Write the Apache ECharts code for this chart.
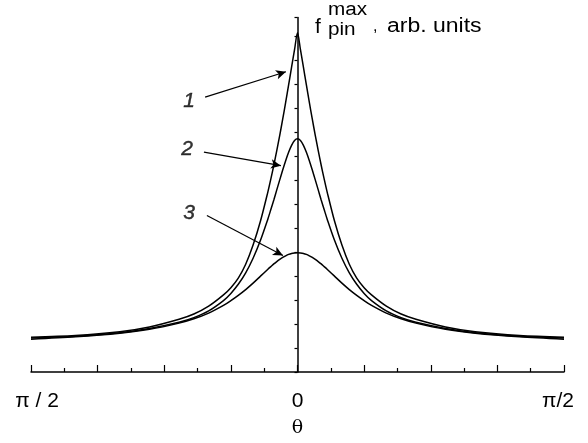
<!DOCTYPE html>
<html>
<head>
<meta charset="utf-8">
<script src="https://cdn.jsdelivr.net/npm/echarts@6/dist/echarts.min.js"></script>
<style>
  html, body { margin: 0; padding: 0; background: #fff; }
  #chart { width: 588px; height: 443px; }
</style>
</head>
<body>
<div id="chart"></div>
<script>
// Angle theta in degrees (-90 .. 90 corresponds to -pi/2 .. pi/2)
const theta = [-90, -75, -60, -50, -40, -35, -30, -25, -22.5, -20, -17.5, -15, -12.5, -10, -9, -8, -7, -6, -5, -4, -3, -2, -1,
               0, 1, 2, 3, 4, 5, 6, 7, 8, 9, 10, 12.5, 15, 17.5, 20, 22.5, 25, 30, 35, 40, 50, 60, 75, 90];

// Maximum pinning force, arbitrary units
const curve1 = [1.45, 1.52, 1.68, 1.88, 2.2, 2.42, 2.75, 3.22, 3.52, 3.92, 4.5, 5.3, 6.3, 7.52, 8.06, 8.63, 9.24, 9.88, 10.55, 11.25, 11.98, 12.72, 13.45,
                14.16, 13.45, 12.72, 11.98, 11.25, 10.55, 9.88, 9.24, 8.63, 8.06, 7.52, 6.3, 5.3, 4.5, 3.92, 3.52, 3.22, 2.75, 2.42, 2.2, 1.88, 1.68, 1.52, 1.45];
const curve2 = [1.42, 1.49, 1.64, 1.82, 2.08, 2.27, 2.55, 2.98, 3.28, 3.66, 4.14, 4.75, 5.5, 6.39, 6.78, 7.18, 7.6, 8.02, 8.43, 8.82, 9.17, 9.46, 9.66,
                9.73, 9.66, 9.46, 9.17, 8.82, 8.43, 8.02, 7.6, 7.18, 6.78, 6.39, 5.5, 4.75, 4.14, 3.66, 3.28, 2.98, 2.55, 2.27, 2.08, 1.82, 1.64, 1.49, 1.42];
const curve3 = [1.37, 1.47, 1.62, 1.78, 2.04, 2.22, 2.46, 2.78, 2.98, 3.2, 3.44, 3.71, 4.0, 4.29, 4.4, 4.51, 4.61, 4.7, 4.78, 4.85, 4.91, 4.95, 4.97,
                4.98, 4.97, 4.95, 4.91, 4.85, 4.78, 4.7, 4.61, 4.51, 4.4, 4.29, 4.0, 3.71, 3.44, 3.2, 2.98, 2.78, 2.46, 2.22, 2.04, 1.78, 1.62, 1.47, 1.37];

// Tick labels on the theta axis
const tickLabels = { '-90': '{lft|π / 2}', '0': '{mid|0}', '90': '{rgt|π/2}' };

// Curve labels and their pointer arrows: [label x, label y, arrow start x, start y, tip x, tip y]
const curveNames = ['1', '2', '3'];
const pointers = [
  [-36.6, 11.3, -31.2, 11.47, -3.9, 12.53],
  [-37.3, 9.3, -31.6, 9.18, -5.6, 8.61],
  [-36.6, 6.65, -30.6, 6.53, -4.9, 4.86]
];

const series = [curve1, curve2, curve3].map(vals => ({
  type: 'line',
  data: theta.map((t, i) => [t, vals[i]]),
  smooth: 0.3,
  showSymbol: false,
  lineStyle: { color: '#000', width: 1.5 },
  z: 3
}));

series.push({
  type: 'scatter',
  data: pointers.map((p, i) => ({ value: [p[0], p[1]], name: curveNames[i] })),
  symbolSize: 0,
  label: {
    show: true,
    position: 'inside',
    formatter: p => p.name,
    fontFamily: 'Liberation Sans',
    fontStyle: 'italic',
    fontSize: 21,
    color: '#000',
    textBorderColor: '#000',
    textBorderWidth: 0.4
  },
  markLine: {
    silent: true,
    symbol: ['none', 'arrow'],
    symbolSize: [7, 10],
    label: { show: false },
    lineStyle: { color: '#000', width: 1.2, type: 'solid' },
    data: pointers.map(p => [{ coord: [p[2], p[3]] }, { coord: [p[4], p[5]] }])
  }
});

const labelFont = { fontFamily: 'Liberation Sans', fontSize: 21, color: '#000' };

const chart = echarts.init(document.getElementById('chart'));
chart.setOption({
  animation: false,
  backgroundColor: '#fff',
  grid: { left: 31, right: 24, top: 17.4, bottom: 63 },
  xAxis: {
    type: 'value',
    min: -90, max: 90, interval: 22.5,
    name: 'θ',
    nameLocation: 'middle',
    nameGap: 47,
    nameTextStyle: { fontFamily: 'DejaVu Serif', fontSize: 19, color: '#000' },
    axisLine: { onZero: false, lineStyle: { color: '#000', width: 1.5 } },
    axisTick: { inside: true, length: 7, lineStyle: { color: '#000', width: 1.2 } },
    minorTick: { show: true, splitNumber: 2, length: 4, lineStyle: { color: '#000', width: 1.2 } },
    splitLine: { show: false },
    axisLabel: {
      margin: 19,
      showMinLabel: true,
      showMaxLabel: true,
      formatter: v => tickLabels[String(v)] || '',
      rich: {
        lft: Object.assign({ padding: [0, 0, 0, 12] }, labelFont),
        mid: labelFont,
        rgt: Object.assign({ padding: [0, 12, 0, 0] }, labelFont)
      }
    }
  },
  yAxis: {
    type: 'value',
    min: 0, max: 14.8, interval: 1,
    axisLine: { show: true, onZero: true, lineStyle: { color: '#000', width: 1.5 } },
    axisTick: { show: true, length: 3, lineStyle: { color: '#000', width: 1.2 } },
    axisLabel: { show: false },
    splitLine: { show: false }
  },
  graphic: [
    { type: 'text', left: 315, top: 17, style: { text: 'f', fontFamily: 'Liberation Sans', fontSize: 21, fill: '#000' } },
    { type: 'text', left: 328, top: 1, scaleX: 1.15, style: { text: 'max', fontFamily: 'Liberation Sans', fontSize: 18, fill: '#000' } },
    { type: 'text', left: 328, top: 21, scaleX: 1.15, style: { text: 'pin', fontFamily: 'Liberation Sans', fontSize: 18, fill: '#000' } },
    { type: 'text', left: 373, top: 19, style: { text: ',', fontFamily: 'Liberation Sans', fontSize: 16, fill: '#000' } },
    { type: 'text', left: 387, top: 16, scaleX: 1.15, style: { text: 'arb. units', fontFamily: 'Liberation Sans', fontSize: 20, fill: '#000' } }
  ],
  series: series
});
</script>
</body>
</html>
